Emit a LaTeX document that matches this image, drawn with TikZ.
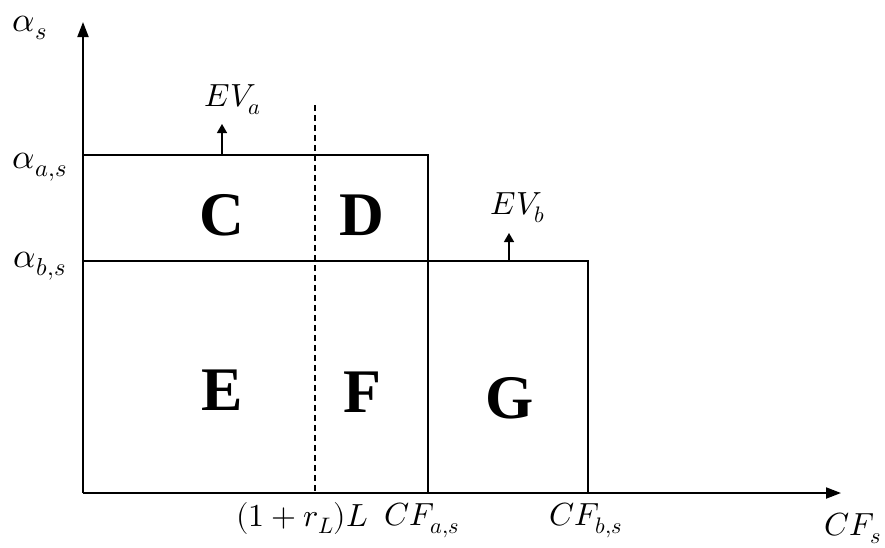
\documentclass[tikz,border=0pt]{standalone}
\usepackage{fontspec}
\usepackage{unicode-math}
\setmainfont{Liberation Serif}
\setmathfont{Latin Modern Math}
\usetikzlibrary{arrows.meta, positioning}
\tikzset{
  axisline/.style={line width=2pt, -{Triangle[length=15pt, width=11pt]}},
  boxline/.style={line width=1.6pt},
  evarrow/.style={line width=1.4pt, -{Triangle[length=9pt, width=10pt]}},
  cutline/.style={line width=1.2pt, dash pattern=on 6pt off 4pt},
  region/.style={font=\fontsize{62}{62}\selectfont\bfseries, inner sep=0pt},
  mlabel/.style={font=\fontsize{32}{32}\selectfont, inner sep=0pt},
  alabel/.style={font=\fontsize{35}{35}\selectfont, inner sep=0pt},
}

\begin{document}
\begin{tikzpicture}[x=1pt, y=-1pt]
  \useasboundingbox (0,0) rectangle (885,547);
  % ── axes ─────────────────────────────────────────────────────────
  \coordinate (O)    at (83,493);
  \coordinate (Ytip) at (83,22);
  \coordinate (Xtip) at (841,493);
  \draw[axisline] (O) -- (Ytip);
  \draw[axisline] (O) -- (Xtip);
  % ── boxes a and b ────────────────────────────────────────────────
  \coordinate (Atl) at (83,155);
  \coordinate (Atr) at (428,155);
  \coordinate (Abr) at (428,493);
  \coordinate (Bl)  at (83,261);
  \coordinate (Btr) at (588,261);
  \coordinate (Bbr) at (588,493);
  \draw[boxline] (Atl) -- (Atr) -- (Abr);
  \draw[boxline] (Bl) -- (Btr) -- (Bbr);
  % ── dashed cut at (1+r_L)L ───────────────────────────────────────
  \coordinate (Ltop) at (315,105);
  \coordinate (Lbot) at (315,493);
  \draw[cutline] (Ltop) -- (Lbot);
  % ── EV shift arrows ──────────────────────────────────────────────
  \coordinate (EVa0) at (222,155);
  \coordinate (EVa1) at (222,124);
  \coordinate (EVb0) at (509,261);
  \coordinate (EVb1) at (509,233);
  \draw[evarrow] (EVa0) -- (EVa1);
  \draw[evarrow] (EVb0) -- (EVb1);
  \node[mlabel] (EVa) at (233,100) {$EV_a$};
  \node[mlabel] (EVb) at (518,208) {$EV_b$};
  % ── region letters ───────────────────────────────────────────────
  \node[region] (C) at (222,215) {C};
  \node[region] (D) at (362,215) {D};
  \node[region] (E) at (222,390) {E};
  \node[region] (F) at (362,392) {F};
  \node[region] (G) at (510,398) {G};
  % ── axis labels ──────────────────────────────────────────────────
  \node[alabel] (as)  at (30,28)   {$\alpha_s$};
  \node[alabel] (aas) at (40,167)  {$\alpha_{a,s}$};
  \node[alabel] (abs) at (40,266)  {$\alpha_{b,s}$};
  \node[mlabel] (rL)  at (302,518) {$(1+r_L)L$};
  \node[mlabel] (CFa) at (422,520) {$CF_{a,s}$};
  \node[mlabel] (CFb) at (586,520) {$CF_{b,s}$};
  \node[mlabel] (CFs) at (853,528) {$CF_s$};
\end{tikzpicture}
\end{document}
